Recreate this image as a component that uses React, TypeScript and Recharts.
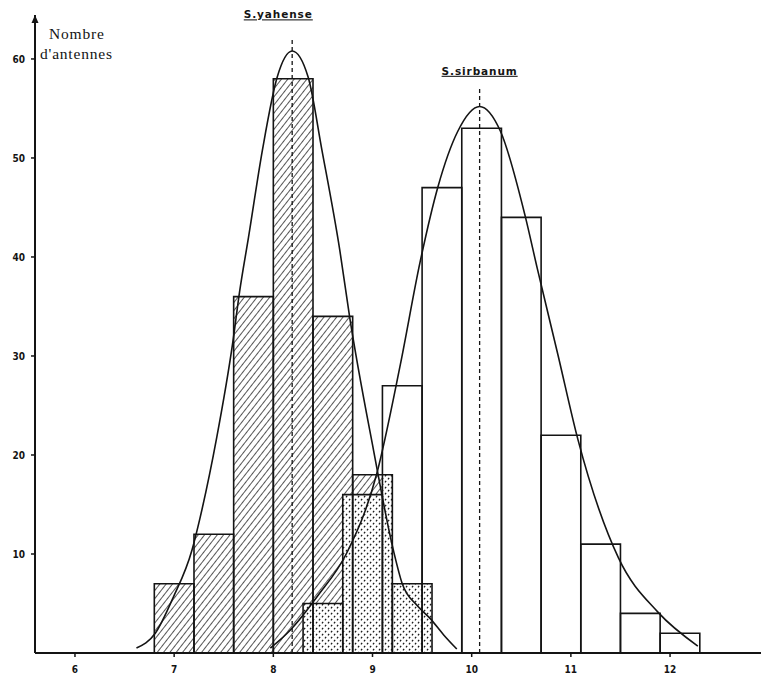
import React from 'react';
import { ComposedChart, XAxis, YAxis, ReferenceArea, ReferenceLine, ReferenceDot, Line } from 'recharts';

// ---- data ----
const binWidth = 0.4;
const yahenseBinStarts = [6.8, 7.2, 7.6, 8.0, 8.4, 8.8, 9.2];
const yahenseCounts = [7, 12, 36, 58, 34, 18, 7];
const sirbanumBinStarts = [8.3, 8.7, 9.1, 9.5, 9.9, 10.3, 10.7, 11.1, 11.5, 11.9];
const sirbanumCounts = [5, 16, 27, 47, 53, 44, 22, 11, 4, 2];

const yahenseCurveX = [6.62, 6.81, 6.99, 7.18, 7.26, 7.43, 7.59, 7.66, 7.75, 7.89, 8.04, 8.19, 8.35, 8.49, 8.67, 8.77, 9.01, 9.21, 9.30, 9.45, 9.58, 9.72, 9.85];
const yahenseCurveY = [0.5, 2.0, 5.6, 10.4, 13.6, 21.8, 31.3, 36.5, 42.0, 50.8, 58.2, 60.8, 58.2, 50.8, 40.7, 33.9, 20.5, 10.4, 7.0, 4.8, 3.5, 1.8, 0.4];
const sirbanumCurveX = [7.97, 8.17, 8.45, 8.74, 9.04, 9.28, 9.48, 9.66, 9.86, 10.08, 10.29, 10.54, 10.66, 10.87, 11.07, 11.48, 11.88, 12.28];
const sirbanumCurveY = [0.5, 2.3, 5.8, 10.1, 18.0, 29.1, 39.5, 47.1, 52.7, 55.2, 52.7, 44.1, 38.9, 30.1, 21.6, 9.6, 4.1, 0.7];

const yahenseMean = 8.19;
const yahenseMeanTop = 62.2;
const sirbanumMean = 10.08;
const sirbanumMeanTop = 57.2;
const yahenseLabel = 'S.yahense';
const yahenseLabelX = 8.05;
const yahenseLabelY = 64.1;
const sirbanumLabel = 'S.sirbanum';
const sirbanumLabelY = 58.4;

const xTicks = [6, 7, 8, 9, 10, 11, 12];
const yTicks = [10, 20, 30, 40, 50, 60];
const xDomain: [number, number] = [5.597, 12.917];
const yDomain: [number, number] = [0, 64.44];

// ---- derived tables ----
const round = (v: number) => Math.round(v * 1000) / 1000;
const yahenseBins = yahenseBinStarts.map((s, i) => ({ x1: s, x2: round(s + binWidth), v: yahenseCounts[i] }));
const sirbanumBins = sirbanumBinStarts.map((s, i) => ({ x1: s, x2: round(s + binWidth), v: sirbanumCounts[i] }));

// overlap of the two histograms (dotted zone)
const overlapBins: { x1: number; x2: number; v: number }[] = [];
yahenseBins.forEach((a) => {
  sirbanumBins.forEach((b) => {
    const lo = Math.max(a.x1, b.x1);
    const hi = Math.min(a.x2, b.x2);
    if (hi - lo > 1e-6) overlapBins.push({ x1: round(lo), x2: round(hi), v: Math.min(a.v, b.v) });
  });
});

const yahenseCurve = yahenseCurveX.map((x, i) => ({ x, y: yahenseCurveY[i] }));
const sirbanumCurve = sirbanumCurveX.map((x, i) => ({ x, y: sirbanumCurveY[i] }));

const INK = '#141414';

const ArrowShape = (props: any) => {
  const { cx, cy } = props;
  return <path d={`M${cx},${cy} L${cx - 3.5},${cy + 8} L${cx + 3.5},${cy + 8} Z`} fill={INK} />;
};

const makeLabel = (text: string) => (props: any) => {
  const { cx, cy } = props;
  return (
    <text
      x={cx}
      y={cy}
      textAnchor="middle"
      fontFamily="'DejaVu Sans', sans-serif"
      fontWeight="bold"
      fontSize={10.5}
      letterSpacing={0.9}
      fill={INK}
      textDecoration="underline"
    >
      {text}
    </text>
  );
};

export default function App() {
  return (
    <div style={{ position: 'absolute', left: 0, top: 0, background: '#fff' }}>
      <ComposedChart width={761} height={677} margin={{ top: 15, right: 0, bottom: 0, left: 0 }}>
        <defs>
          <pattern id="hatch" width="5" height="5" patternUnits="userSpaceOnUse" patternTransform="rotate(38)">
            <rect width="5" height="5" fill="#fff" />
            <line x1="0" y1="0" x2="0" y2="5" stroke={INK} strokeWidth="1.45" />
          </pattern>
          <pattern id="dots" width="6" height="6" patternUnits="userSpaceOnUse">
            <rect width="6" height="6" fill="#fff" />
            <line x1="1.0" y1="2.4" x2="2.1" y2="0.9" stroke={INK} strokeWidth="1.25" />
            <line x1="4.0" y1="5.4" x2="5.1" y2="3.9" stroke={INK} strokeWidth="1.25" />
          </pattern>
        </defs>
        <XAxis
          type="number"
          dataKey="x"
          domain={xDomain}
          ticks={xTicks}
          allowDataOverflow
          height={24}
          axisLine={{ stroke: INK, strokeWidth: 2 }}
          tickLine={{ stroke: INK, strokeWidth: 1.5 }}
          tickSize={4}
          tickMargin={9}
          tick={{ fill: INK, fontSize: 10, fontWeight: 'bold', fontFamily: "'DejaVu Sans Condensed', sans-serif" }}
        />
        <YAxis
          type="number"
          domain={yDomain}
          ticks={yTicks}
          allowDataOverflow
          width={35}
          axisLine={{ stroke: INK, strokeWidth: 2 }}
          tickLine={{ stroke: INK, strokeWidth: 1.5 }}
          tickSize={4}
          tickMargin={6}
          tick={{ fill: INK, fontSize: 10, fontWeight: 'bold', fontFamily: "'DejaVu Sans Condensed', sans-serif" }}
        />

        {yahenseBins.map((b, i) => (
          <ReferenceArea key={`yf${i}`} x1={b.x1} x2={b.x2} y1={0} y2={b.v} fill="url(#hatch)" fillOpacity={1} stroke="none" ifOverflow="visible" />
        ))}
        {overlapBins.map((b, i) => (
          <ReferenceArea key={`of${i}`} x1={b.x1} x2={b.x2} y1={0} y2={b.v} fill="url(#dots)" fillOpacity={1} stroke="none" ifOverflow="visible" />
        ))}
        {yahenseBins.map((b, i) => (
          <ReferenceArea key={`yo${i}`} x1={b.x1} x2={b.x2} y1={0} y2={b.v} fill="none" stroke={INK} strokeWidth={1.6} ifOverflow="visible" />
        ))}
        {sirbanumBins.map((b, i) => (
          <ReferenceArea key={`so${i}`} x1={b.x1} x2={b.x2} y1={0} y2={b.v} fill="none" stroke={INK} strokeWidth={1.6} ifOverflow="visible" />
        ))}

        <ReferenceLine
          segment={[{ x: yahenseMean, y: 0 }, { x: yahenseMean, y: yahenseMeanTop }]}
          stroke={INK}
          strokeWidth={1.3}
          strokeDasharray="4 3"
          ifOverflow="visible"
        />
        <ReferenceLine
          segment={[{ x: sirbanumMean, y: 0 }, { x: sirbanumMean, y: sirbanumMeanTop }]}
          stroke={INK}
          strokeWidth={1.3}
          strokeDasharray="4 3"
          ifOverflow="visible"
        />

        <Line data={yahenseCurve} dataKey="y" type="monotone" stroke={INK} strokeWidth={1.6} dot={false} activeDot={false} isAnimationActive={false} />
        <Line data={sirbanumCurve} dataKey="y" type="monotone" stroke={INK} strokeWidth={1.6} dot={false} activeDot={false} isAnimationActive={false} />

        <ReferenceDot x={xDomain[0]} y={yDomain[1]} r={0} shape={ArrowShape} ifOverflow="visible" />
        <ReferenceDot x={yahenseLabelX} y={yahenseLabelY} r={0} shape={makeLabel(yahenseLabel)} ifOverflow="visible" />
        <ReferenceDot x={sirbanumMean} y={sirbanumLabelY} r={0} shape={makeLabel(sirbanumLabel)} ifOverflow="visible" />

        <text x={49} y={39} fontFamily="'Liberation Serif', serif" fontSize={15.5} letterSpacing={0.8} fill={INK}>Nombre</text>
        <text x={40} y={59} fontFamily="'Liberation Serif', serif" fontSize={15.5} letterSpacing={0.8} fill={INK}>d'antennes</text>
      </ComposedChart>
    </div>
  );
}
